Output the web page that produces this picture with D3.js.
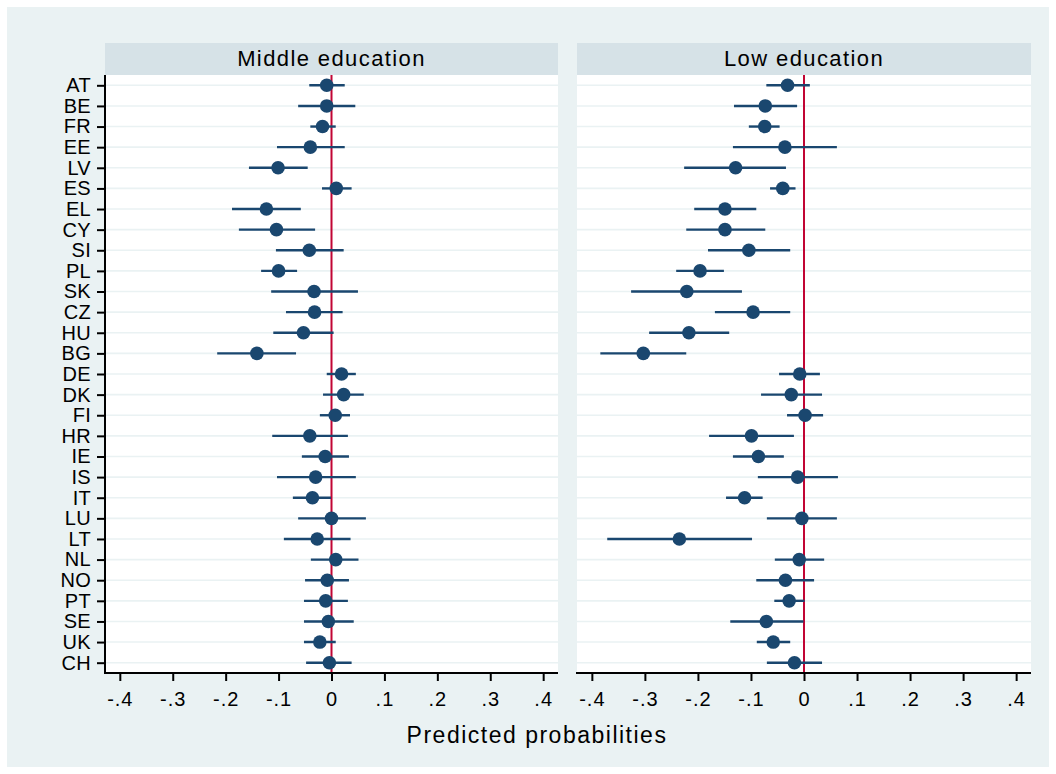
<!DOCTYPE html>
<html>
<head>
<meta charset="utf-8">
<script src="https://cdn.jsdelivr.net/npm/d3@7"></script>
<style>
  body { margin: 0; background: #ffffff; }
  svg { display: block; font-family: "Liberation Sans", Arial, sans-serif; }
</style>
</head>
<body>
<div id="chart"></div>
<script>
// Country order, top to bottom
var countries = ["AT","BE","FR","EE","LV","ES","EL","CY","SI","PL","SK","CZ","HU","BG",
  "DE","DK","FI","HR","IE","IS","IT","LU","LT","NL","NO","PT","SE","UK","CH"];

// Middle education: estimate, lower and upper bound
var midEst = [-0.009,-0.009,-0.017,-0.040,-0.101,0.009,-0.123,-0.104,-0.042,-0.100,-0.033,-0.032,-0.053,-0.141,
  0.019,0.023,0.007,-0.041,-0.012,-0.030,-0.036,0.000,-0.027,0.008,-0.008,-0.011,-0.006,-0.022,-0.004];
var midLo = [-0.042,-0.063,-0.040,-0.103,-0.156,-0.018,-0.188,-0.175,-0.105,-0.133,-0.114,-0.086,-0.110,-0.216,
  -0.009,-0.016,-0.022,-0.112,-0.056,-0.103,-0.073,-0.063,-0.090,-0.039,-0.050,-0.052,-0.052,-0.052,-0.048];
var midHi = [0.025,0.045,0.008,0.025,-0.045,0.038,-0.058,-0.031,0.023,-0.065,0.050,0.021,0.004,-0.067,
  0.046,0.061,0.035,0.031,0.033,0.046,-0.001,0.065,0.036,0.051,0.033,0.031,0.042,0.008,0.038];

// Low education
var lowEst = [-0.031,-0.073,-0.074,-0.036,-0.129,-0.040,-0.149,-0.149,-0.104,-0.196,-0.221,-0.096,-0.217,-0.303,
  -0.008,-0.024,0.002,-0.099,-0.086,-0.012,-0.112,-0.004,-0.235,-0.009,-0.035,-0.028,-0.071,-0.058,-0.018];
var lowLo = [-0.071,-0.132,-0.104,-0.134,-0.226,-0.064,-0.207,-0.222,-0.181,-0.241,-0.326,-0.168,-0.292,-0.384,
  -0.047,-0.081,-0.032,-0.179,-0.134,-0.087,-0.147,-0.070,-0.371,-0.055,-0.090,-0.056,-0.139,-0.089,-0.070];
var lowHi = [0.011,-0.013,-0.046,0.062,-0.034,-0.016,-0.090,-0.073,-0.026,-0.151,-0.117,-0.026,-0.141,-0.222,
  0.030,0.034,0.036,-0.019,-0.038,0.064,-0.078,0.062,-0.098,0.038,0.019,0.001,-0.001,-0.026,0.034];

var xTicks = [-0.4,-0.3,-0.2,-0.1,0,0.1,0.2,0.3,0.4];
var xTickLabels = ["-.4","-.3","-.2","-.1","0",".1",".2",".3",".4"];

var panels = [
  {title: "Middle education", est: midEst, lo: midLo, hi: midHi, x0: 105, x1: 558},
  {title: "Low education", est: lowEst, lo: lowLo, hi: lowHi, x0: 577, x1: 1031}
];

var svgWidth = 1056, svgHeight = 774;
var plotTop = 75, plotBottom = 673, headerTop = 43;
var navy = "#1a476f", red = "#c10534";

var svg = d3.select("#chart").append("svg")
  .attr("width", svgWidth)
  .attr("height", svgHeight);

// graph region
svg.append("rect")
  .attr("x", 7).attr("y", 7)
  .attr("width", 1042).attr("height", 760)
  .attr("fill", "#eaf2f3");

var yScale = d3.scalePoint()
  .domain(countries)
  .range([plotTop, plotBottom])
  .padding(0.5);

panels.forEach(function(p, pi) {
  var xScale = d3.scaleLinear()
    .domain([-0.428, 0.428])
    .range([p.x0, p.x1]);

  var g = svg.append("g");

  // header strip
  g.append("rect")
    .attr("x", p.x0).attr("y", headerTop)
    .attr("width", p.x1 - p.x0).attr("height", plotTop - headerTop)
    .attr("fill", "#d6e2e7");
  g.append("text")
    .attr("x", (p.x0 + p.x1) / 2)
    .attr("y", 66)
    .attr("text-anchor", "middle")
    .attr("font-size", 22)
    .attr("letter-spacing", 1.4)
    .attr("fill", "#000")
    .text(p.title);

  // plot region
  g.append("rect")
    .attr("x", p.x0).attr("y", plotTop)
    .attr("width", p.x1 - p.x0).attr("height", plotBottom - plotTop)
    .attr("fill", "#ffffff");

  // horizontal grid
  g.selectAll(".grid")
    .data(countries)
    .enter().append("line")
    .attr("x1", p.x0).attr("x2", p.x1)
    .attr("y1", d => yScale(d)).attr("y2", d => yScale(d))
    .attr("stroke", "#eaf2f3")
    .attr("stroke-width", 1.6);

  // zero line
  g.append("line")
    .attr("x1", xScale(0)).attr("x2", xScale(0))
    .attr("y1", plotTop).attr("y2", plotBottom)
    .attr("stroke", red)
    .attr("stroke-width", 2);

  // confidence intervals
  g.selectAll(".ci")
    .data(countries)
    .enter().append("line")
    .attr("x1", (d, i) => xScale(p.lo[i]))
    .attr("x2", (d, i) => xScale(p.hi[i]))
    .attr("y1", d => yScale(d)).attr("y2", d => yScale(d))
    .attr("stroke", navy)
    .attr("stroke-width", 2.4);

  // point estimates
  g.selectAll(".dot")
    .data(countries)
    .enter().append("circle")
    .attr("cx", (d, i) => xScale(p.est[i]))
    .attr("cy", d => yScale(d))
    .attr("r", 6.8)
    .attr("fill", navy);

  // x axis
  var bottomAxis = d3.axisBottom(xScale)
    .tickValues(xTicks)
    .tickFormat((d, i) => xTickLabels[i])
    .tickSizeInner(8)
    .tickSizeOuter(0)
    .tickPadding(11);

  var xAxis = g.append("g")
    .attr("transform", `translate(0, ${plotBottom})`)
    .call(bottomAxis);
  xAxis.select(".domain").attr("stroke", "#000").attr("stroke-width", 2)
    .attr("d", `M${p.x0 - 1},0H${p.x1}`);
  xAxis.selectAll(".tick line").attr("stroke", "#000").attr("stroke-width", 2);
  xAxis.selectAll(".tick text")
    .attr("font-size", 20)
    .attr("letter-spacing", 1)
    .attr("font-family", "Liberation Sans, Arial, sans-serif")
    .attr("fill", "#000");

  // y axis only on the first panel
  if (pi === 0) {
    var leftAxis = d3.axisLeft(yScale)
      .tickSizeInner(8)
      .tickSizeOuter(0)
      .tickPadding(6);
    var yAxis = g.append("g")
      .attr("transform", `translate(${p.x0}, 0)`)
      .call(leftAxis);
    yAxis.select(".domain").attr("stroke", "#000").attr("stroke-width", 2)
      .attr("d", `M0,${plotTop}V${plotBottom + 1}`);
    yAxis.selectAll(".tick line").attr("stroke", "#000").attr("stroke-width", 2);
    yAxis.selectAll(".tick text")
      .attr("font-size", 20)
      .attr("letter-spacing", 0.3)
      .attr("font-family", "Liberation Sans, Arial, sans-serif")
      .attr("fill", "#000");
  }
});

// x axis title
svg.append("text")
  .attr("x", 537)
  .attr("y", 743)
  .attr("text-anchor", "middle")
  .attr("font-size", 23)
  .attr("letter-spacing", 1.5)
  .attr("fill", "#000")
  .text("Predicted probabilities");
</script>
</body>
</html>
